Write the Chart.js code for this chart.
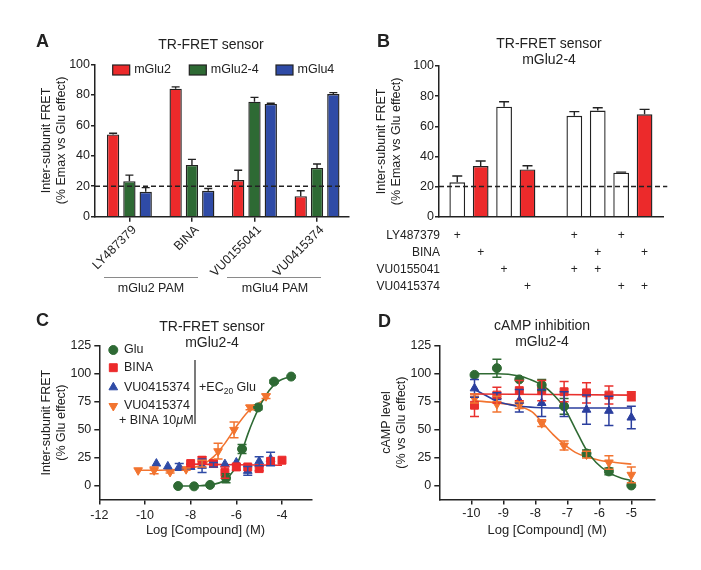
<!DOCTYPE html>
<html>
<head>
<meta charset="utf-8">
<script src="https://cdn.jsdelivr.net/npm/chart.js@4.4.0/dist/chart.umd.min.js"></script>
<style>
  body { margin: 0; background: #fff; }
  #page { position: relative; width: 701px; height: 570px; overflow: hidden; font-family: "Liberation Sans", Arial, sans-serif; color: #222; }
  canvas { position: absolute; }
  .letter { position: absolute; font-size: 18px; font-weight: bold; line-height: 17px; }
  .title { position: absolute; width: 220px; text-align: center; font-size: 14px; line-height: 15.5px; }
  .bracket { position: absolute; height: 0; border-top: 1.6px solid #8a8a8a; }
  .group { position: absolute; width: 120px; text-align: center; font-size: 12.5px; line-height: 15px; }
</style>
</head>
<body>
<div id="page">
  <canvas id="chartA" width="350" height="300" style="left:0;top:0"></canvas>
  <canvas id="chartB" width="351" height="300" style="left:350px;top:0"></canvas>
  <canvas id="chartC" width="350" height="270" style="left:0;top:300px"></canvas>
  <canvas id="chartD" width="351" height="270" style="left:350px;top:300px"></canvas>

  <div class="letter" style="left:36px;top:33px">A</div>
  <div class="letter" style="left:377px;top:33px">B</div>
  <div class="letter" style="left:36px;top:312px">C</div>
  <div class="letter" style="left:378px;top:313px">D</div>

  <div class="title" style="left:101px;top:37px">TR-FRET sensor</div>
  <div class="title" style="left:439px;top:36px">TR-FRET sensor<br>mGlu2-4</div>
  <div class="title" style="left:102px;top:319px">TR-FRET sensor<br>mGlu2-4</div>
  <div class="title" style="left:432px;top:318px">cAMP inhibition<br>mGlu2-4</div>

  <div class="bracket" style="left:104px;top:277px;width:94px"></div>
  <div class="bracket" style="left:227px;top:277px;width:94px"></div>
  <div class="group" style="left:91px;top:281px">mGlu2 PAM</div>
  <div class="group" style="left:215px;top:281px">mGlu4 PAM</div>
</div>

<script>
// ---- panel A: TR-FRET, three sensors ----
const aCompounds = ["LY487379", "BINA", "VU0155041", "VU0415374"];
const aMglu2 = [54, 84, 24, 13.5];
const aMglu2Err = [0.8, 1.2, 6.5, 3.5];
const aMglu24 = [23.3, 34, 75.5, 32];
const aMglu24Err = [4, 3.6, 2.8, 2.6];
const aMglu4 = [16.3, 17, 74, 80.5];
const aMglu4Err = [2.8, 1.5, 0.4, 0.9];
const aThreshold = 20;

// ---- panel B: mGlu2-4 sensor, combinations ----
const bSlots = [0, 1, 2, 3, 5, 6, 7, 8];
const bValues = [22.8, 33.6, 73, 31.4, 67, 70.4, 29.2, 67.9];
const bErr = [4.2, 3.4, 3.3, 2.4, 2.7, 1.9, 0.4, 3.3];
const bFilled = [false, true, false, true, false, false, false, true];
const bRows = ["LY487379", "BINA", "VU0155041", "VU0415374"];
const bPlus = [
  [1, 0, 0, 0, 1, 0, 1, 0],
  [0, 1, 0, 0, 0, 1, 0, 1],
  [0, 0, 1, 0, 1, 1, 0, 0],
  [0, 0, 0, 1, 0, 0, 1, 1]
];
const bThreshold = 20;

// ---- panel C: TR-FRET dose response ----
const cGluX = [-8.55, -7.85, -7.15, -6.45, -5.75, -5.05, -4.35, -3.6];
const cGluY = [0, -0.3, 1, 7, 33, 70, 93, 97.5];
const cGluErr = [0, 0, 0, 4, 4, 2, 1.5, 0];
const cBinaX = [-8, -7.5, -7, -6.5, -6, -5.5, -5, -4.5, -4];
const cBinaY = [20, 23, 20, 12, 17, 17, 15.5, 22, 23];
const cBinaErr = [0, 3, 1, 5, 3, 0, 2, 0, 0];
const cVuX = [-9.5, -9, -8.5, -8, -7.5, -7, -6.5, -6, -5.5, -5, -4.5];
const cVuY = [20, 17.5, 17, 17, 18, 19, 19.5, 21, 13.5, 22, 24];
const cVuErr = [0, 0, 3, 0, 6, 2, 0, 0, 4, 4, 6];
const cMixX = [-10.3, -9.6, -8.9, -8.2, -7.5, -6.8, -6.1, -5.4, -4.7];
const cMixY = [14, 14, 12.5, 15, 20, 31, 50, 70, 80];
const cMixErr = [0, 3, 1, 1, 3, 7, 7, 2, 2];
const cGluFitX = [-8.6, -7.6, -7.0, -6.6, -6.3, -6.0, -5.75, -5.5, -5.25, -5.0, -4.7, -4.4, -4.1, -3.7];
const cGluFitY = [0, 0.3, 1.5, 4, 9, 18, 31, 46, 59, 70, 81, 89, 94, 97];
const cBinaFitX = [-8.2, -6.1, -4];
const cBinaFitY = [19.5, 19, 18.5];
const cMixFitX = [-10.3, -9.5, -8.5, -8.0, -7.5, -7.0, -6.5, -6.0, -5.5, -5.0, -4.6];
const cMixFitY = [14, 14, 15, 16, 19, 26, 38, 53, 66, 74, 79];
const cXTicks = [-12, -10, -8, -6, -4];

// ---- panel D: cAMP inhibition ----
const dX = [-9.9, -9.2, -8.5, -7.8, -7.1, -6.4, -5.7, -5.0];
const dGluY = [99, 105, 95, 90, 71, 29, 13, 0.5];
const dGluErr = [0, 8, 0, 5, 7, 3, 3, 0];
const dBinaY = [72, 81, 85, 85, 84, 83, 81, 80];
const dBinaErr = [10, 7, 9, 9, 9, 9, 8, 4];
const dVuY = [87, 80, 76, 74, 73, 68, 67, 61];
const dVuErr = [8, 3, 10, 12, 11, 13, 13, 10];
const dMixY = [78, 73, 72, 56, 36, 28, 21, 10];
const dMixErr = [4, 7, 3, 3, 4, 3, 6, 7];
const dGluFitX = [-9.9, -9.2, -8.5, -8.17, -7.8, -7.45, -7.1, -6.75, -6.4, -6.1, -5.7, -5.3, -5.0];
const dGluFitY = [100, 100, 98, 95, 90, 82, 70, 51, 32, 21, 12, 7, 5];
const dBinaFitX = [-9.9, -5.0];
const dBinaFitY = [82, 81];
const dVuFitX = [-9.9, -9.5, -9.2, -8.8, -8.5, -8.0, -7.0, -6.0, -5.0];
const dVuFitY = [86, 80, 75.5, 72.5, 71, 70, 69.5, 69.5, 69.5];
const dMixFitX = [-9.9, -9.2, -8.5, -8.1, -7.8, -7.45, -7.1, -6.75, -6.4, -6.0, -5.5, -5.0];
const dMixFitY = [76, 74, 71, 66, 57, 46, 37, 30, 26, 23, 21, 19.5];
const dXTicks = [-10, -9, -8, -7, -6, -5];

const curveYTicks = [0, 25, 50, 75, 100, 125];
const barYTicks = [0, 20, 40, 60, 80, 100];

const INK = "#222";
const FAMILY = '"Liberation Sans", Arial, sans-serif';
const RED = "#ec2a2b";
const GREEN = "#2e6a34";
const BLUE = "#2f4ba6";
const ORANGE = "#f27430";
const DGREEN = "#2f6a33";
const DRED = "#e9302d";
const DBLUE = "#2b3f9e";

Chart.defaults.font.family = FAMILY;
Chart.defaults.font.size = 12;
Chart.defaults.color = INK;

const xy = (xs, ys) => xs.map((x, i) => ({ x: x, y: ys[i] }));

// error bars drawn from dataset.errors through the y scale
const errorBars = {
  id: "errorBars",
  afterDatasetsDraw(chart, args, o) {
    const ctx = chart.ctx;
    const ys = chart.scales.y;
    ctx.save();
    ctx.lineWidth = o.width;
    chart.data.datasets.forEach((ds, di) => {
      if (!ds.errors) return;
      const meta = chart.getDatasetMeta(di);
      meta.data.forEach((el, i) => {
        const e = ds.errors[i];
        if (!e) return;
        const v = ds.data[i].y;
        const top = ys.getPixelForValue(v + e);
        const bot = ys.getPixelForValue(o.upOnly ? v : v - e);
        const h = o.cap / 2;
        ctx.strokeStyle = o.color || ds.borderColor;
        ctx.beginPath();
        ctx.moveTo(el.x, top); ctx.lineTo(el.x, bot);
        ctx.moveTo(el.x - h, top); ctx.lineTo(el.x + h, top);
        if (!o.upOnly) { ctx.moveTo(el.x - h, bot); ctx.lineTo(el.x + h, bot); }
        ctx.stroke();
      });
    });
    ctx.restore();
  }
};

const legendA = {
  id: "legendA",
  afterDraw(chart, args, o) {
    const ctx = chart.ctx;
    ctx.save();
    ctx.font = "12.5px " + FAMILY;
    ctx.textBaseline = "middle";
    chart.data.datasets.filter(d => d.type !== "line").forEach((ds, i) => {
      const x = o.xs[i];
      ctx.fillStyle = ds.backgroundColor;
      ctx.fillRect(x, o.y - 5, 17, 10);
      ctx.strokeStyle = INK;
      ctx.lineWidth = 1.2;
      ctx.strokeRect(x, o.y - 5, 17, 10);
      ctx.fillStyle = INK;
      ctx.fillText(ds.label, x + 21.5, o.y);
    });
    ctx.restore();
  }
};

const tableB = {
  id: "tableB",
  afterDraw(chart, args, o) {
    const { ctx, chartArea } = chart;
    const xs = chart.scales.x;
    ctx.save();
    ctx.font = "12px " + FAMILY;
    ctx.fillStyle = INK;
    ctx.textBaseline = "middle";
    bRows.forEach((name, r) => {
      const y = chartArea.bottom + o.first + r * o.step;
      ctx.textAlign = "right";
      ctx.fillText(name, chartArea.left + 1, y);
      ctx.textAlign = "center";
      bPlus[r].forEach((on, i) => {
        if (on) ctx.fillText("+", xs.getPixelForValue(bSlots[i]), y);
      });
    });
    ctx.restore();
  }
};

const legendC = {
  id: "legendC",
  afterDraw(chart, args, o) {
    const ctx = chart.ctx;
    const sets = chart.data.datasets.filter(d => d.errors);
    ctx.save();
    ctx.font = "12.5px " + FAMILY;
    ctx.textBaseline = "middle";
    sets.forEach((ds, i) => {
      ctx.fillStyle = ds.backgroundColor;
      ctx.strokeStyle = ds.borderColor;
      Chart.helpers.drawPoint(ctx, {
        pointStyle: ds.pointStyle, radius: ds.pointRadius,
        rotation: ds.pointRotation || 0, borderWidth: 1
      }, o.markX, o.rows[i]);
      ctx.fillStyle = INK;
      ctx.fillText(ds.label, o.textX, o.rows[i]);
    });
    // "+ BINA 10 µM" note under the last entry
    let x = o.noteX;
    ctx.fillText("+ BINA 10", x, o.noteY);
    x += ctx.measureText("+ BINA 10").width;
    ctx.font = "italic 12.5px " + FAMILY;
    ctx.fillText("\u03bc", x, o.noteY);
    x += ctx.measureText("\u03bc").width;
    ctx.font = "12.5px " + FAMILY;
    ctx.fillText("M", x, o.noteY);
    // bracket and +EC20 Glu
    ctx.strokeStyle = INK;
    ctx.lineWidth = 1.2;
    ctx.beginPath();
    ctx.moveTo(o.lineX, o.lineTop);
    ctx.lineTo(o.lineX, o.lineBottom);
    ctx.stroke();
    x = o.lineX + 4;
    ctx.fillText("+EC", x, o.ecY);
    x += ctx.measureText("+EC").width;
    ctx.font = "8.5px " + FAMILY;
    ctx.fillText("20", x, o.ecY + 4);
    x += ctx.measureText("20").width;
    ctx.font = "12.5px " + FAMILY;
    ctx.fillText(" Glu", x, o.ecY);
    ctx.restore();
  }
};

function yAxis(min, max, ticks, title, titlePad, width, tickLen, tickPad) {
  return {
    type: "linear",
    min: min,
    max: max,
    afterBuildTicks: s => { s.ticks = ticks.map(v => ({ value: v })); },
    afterFit: s => { s.width = width; },
    grid: { drawOnChartArea: false, tickLength: tickLen, color: INK, lineWidth: 1.5 },
    border: { color: INK, width: 1.5 },
    ticks: { color: INK, padding: tickPad, font: { size: 12.5 } },
    title: {
      display: true, text: title, color: INK,
      font: { size: 12.5, lineHeight: 1.22 }, padding: { top: titlePad, bottom: 0 }
    }
  };
}

const quiet = {
  responsive: false,
  animation: false,
  events: [],
  plugins: { legend: { display: false }, tooltip: { enabled: false }, title: { display: false } }
};

// ---------- A ----------
new Chart(document.getElementById("chartA"), {
  type: "bar",
  data: {
    datasets: [
      { label: "mGlu2", data: xy([0, 1, 2, 3], aMglu2), errors: aMglu2Err, backgroundColor: RED, borderColor: INK, borderWidth: 1.4 },
      { label: "mGlu2-4", data: xy([0, 1, 2, 3], aMglu24), errors: aMglu24Err, backgroundColor: GREEN, borderColor: INK, borderWidth: 1.4 },
      { label: "mGlu4", data: xy([0, 1, 2, 3], aMglu4), errors: aMglu4Err, backgroundColor: BLUE, borderColor: INK, borderWidth: 1.4 },
      { type: "line", label: "threshold", data: [{ x: -0.55, y: aThreshold }, { x: 3.4, y: aThreshold }],
        borderColor: INK, borderWidth: 1.5, borderDash: [5, 3], pointRadius: 0, order: -1 }
    ]
  },
  options: Object.assign({}, quiet, {
    layout: { padding: { top: 64.3, right: 1.7, bottom: 0, left: 0 } },
    datasets: { bar: { categoryPercentage: 0.782, barPercentage: 0.755 } },
    plugins: Object.assign({}, quiet.plugins, {
      errorBars: { width: 1.4, cap: 8, upOnly: true, color: INK },
      legendA: { xs: [112.7, 189.3, 276], y: 70 }
    }),
    scales: {
      x: {
        type: "linear", min: -0.55, max: 3.5, offset: false,
        afterBuildTicks: s => { s.ticks = aCompounds.map((c, i) => ({ value: i })); },
        afterFit: s => { s.height = 83.3; },
        grid: { drawOnChartArea: false, offset: false, tickLength: 5, color: INK, lineWidth: 1.5 },
        border: { color: INK, width: 1.5 },
        ticks: { autoSkip: false, minRotation: 45, maxRotation: 45, padding: 1, labelOffset: 5, color: INK,
                 font: { size: 12.5 }, callback: v => aCompounds[v] }
      },
      y: yAxis(0, 100, barYTicks, ["Inter-subunit FRET", "(% Emax vs Glu effect)"], 39, 95, 4, 1)
    }
  }),
  plugins: [errorBars, legendA]
});

// ---------- B ----------
new Chart(document.getElementById("chartB"), {
  type: "bar",
  data: {
    datasets: [
      { label: "mGlu2-4", data: xy(bSlots, bValues), errors: bErr,
        backgroundColor: bFilled.map(f => f ? RED : "#fff"), borderColor: INK, borderWidth: 1.4 },
      { type: "line", label: "threshold", data: [{ x: -0.78, y: bThreshold }, { x: 8.97, y: bThreshold }],
        borderColor: INK, borderWidth: 1.5, borderDash: [5, 3], pointRadius: 0, order: -1, clip: false }
    ]
  },
  options: Object.assign({}, quiet, {
    layout: { padding: { top: 66, right: 37.7, bottom: 0, left: 0 } },
    datasets: { bar: { categoryPercentage: 1, barPercentage: 0.672 } },
    plugins: Object.assign({}, quiet.plugins, {
      errorBars: { width: 1.4, cap: 10, upOnly: true, color: INK },
      tableB: { first: 18.5, step: 17.2 }
    }),
    scales: {
      x: {
        type: "linear", min: -0.78, max: 8.8, offset: false,
        afterBuildTicks: s => { s.ticks = []; },
        afterFit: s => { s.height = 83.3; },
        grid: { display: false },
        border: { color: INK, width: 1.5 },
        ticks: { display: false }
      },
      y: yAxis(0, 100, barYTicks, ["Inter-subunit FRET", "(% Emax vs Glu effect)"], 24, 89, 4, 1)
    }
  }),
  plugins: [errorBars, tableB]
});

function fitLine(xs, ys, color) {
  return { label: "fit", data: xy(xs, ys), showLine: true, borderColor: color, borderWidth: 1.6,
           pointRadius: 0, cubicInterpolationMode: "monotone", order: 2, fill: false };
}
function marks(label, xs, ys, errs, color, style, radius, rotation) {
  return { label: label, data: xy(xs, ys), errors: errs, backgroundColor: color, borderColor: color,
           borderWidth: 1, pointStyle: style, pointRadius: radius, pointRotation: rotation, order: 1 };
}
function xAxis(min, max, ticks, height, tickPad, titlePad) {
  return {
    type: "linear", min: min, max: max,
    afterBuildTicks: s => { s.ticks = ticks.map(v => ({ value: v })); },
    afterFit: s => { s.height = height; },
    grid: { drawOnChartArea: false, tickLength: 5, color: INK, lineWidth: 1.5 },
    border: { color: INK, width: 1.5 },
    ticks: { color: INK, padding: tickPad, font: { size: 12.5 } },
    title: { display: true, text: "Log [Compound] (M)", color: INK,
             font: { size: 13, lineHeight: 1.2 }, padding: { top: 0, bottom: titlePad } }
  };
}

// ---------- C ----------
new Chart(document.getElementById("chartC"), {
  type: "scatter",
  data: {
    datasets: [
      fitLine(cGluFitX, cGluFitY, GREEN),
      fitLine(cBinaFitX, cBinaFitY, RED),
      fitLine(cMixFitX, cMixFitY, ORANGE),
      marks("Glu", cGluX, cGluY, cGluErr, GREEN, "circle", 4.5, 0),
      marks("BINA", cBinaX, cBinaY, cBinaErr, RED, "rect", 5.6, 0),
      marks("VU0415374", cVuX, cVuY, cVuErr, BLUE, "triangle", 5, 0),
      marks("VU0415374", cMixX, cMixY, cMixErr, ORANGE, "triangle", 5, 180)
    ]
  },
  options: Object.assign({}, quiet, {
    layout: { padding: { top: 45.7, right: 38.3, bottom: 0, left: 0 } },
    plugins: Object.assign({}, quiet.plugins, {
      errorBars: { width: 1.5, cap: 9, upOnly: false },
      legendC: { markX: 113.3, textX: 124, rows: [50, 67.7, 87.3, 106], noteX: 119, noteY: 120.5,
                 lineX: 195, lineTop: 60, lineBottom: 124, ecY: 87.3 }
    }),
    scales: {
      x: xAxis(-12, -2.7, cXTicks, 70.5, 4, 32),
      y: yAxis(-12, 125, curveYTicks, ["Inter-subunit FRET", "(% Glu effect)"], 39, 99.3, 5, 3)
    }
  }),
  plugins: [errorBars, legendC]
});

// ---------- D ----------
new Chart(document.getElementById("chartD"), {
  type: "scatter",
  data: {
    datasets: [
      fitLine(dGluFitX, dGluFitY, DGREEN),
      fitLine(dBinaFitX, dBinaFitY, DRED),
      fitLine(dVuFitX, dVuFitY, DBLUE),
      fitLine(dMixFitX, dMixFitY, ORANGE),
      marks("Glu", dX, dGluY, dGluErr, DGREEN, "circle", 4.5, 0),
      marks("BINA", dX, dBinaY, dBinaErr, DRED, "rect", 5.6, 0),
      marks("VU0415374", dX, dVuY, dVuErr, DBLUE, "triangle", 5, 0),
      marks("VU0415374 + BINA", dX, dMixY, dMixErr, ORANGE, "triangle", 5, 180)
    ]
  },
  options: Object.assign({}, quiet, {
    layout: { padding: { top: 45.7, right: 46, bottom: 0, left: 0 } },
    plugins: Object.assign({}, quiet.plugins, {
      errorBars: { width: 1.5, cap: 9, upOnly: false }
    }),
    scales: {
      x: xAxis(-11, -4.26, dXTicks, 70.5, 2, 32),
      y: yAxis(-12, 125, curveYTicks, ["cAMP level", "(% vs Glu effect)"], 29, 89.3, 5, 3)
    }
  }),
  plugins: [errorBars]
});
</script>
</body>
</html>
